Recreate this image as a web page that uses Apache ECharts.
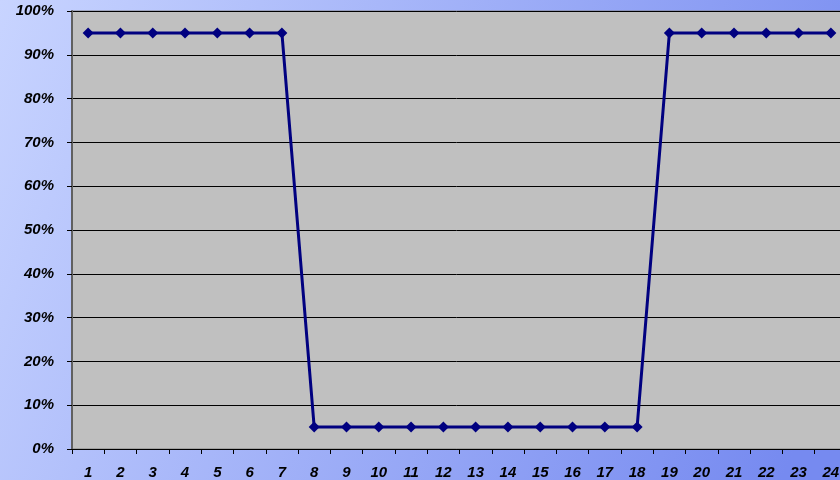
<!DOCTYPE html>
<html>
<head>
<meta charset="utf-8">
<script src="https://cdn.jsdelivr.net/npm/echarts@6/dist/echarts.min.js"></script>
<style>
  html, body { margin: 0; padding: 0; }
  #chart { width: 840px; height: 480px; }
</style>
</head>
<body>
<div id="chart"></div>
<script>
// Hourly share, hours 1..24
const hours = ['1','2','3','4','5','6','7','8','9','10','11','12','13','14','15','16','17','18','19','20','21','22','23','24'];
const share = [0.95,0.95,0.95,0.95,0.95,0.95,0.95,0.05,0.05,0.05,0.05,0.05,0.05,0.05,0.05,0.05,0.05,0.05,0.95,0.95,0.95,0.95,0.95,0.95];
const yTicks = [0,0.1,0.2,0.3,0.4,0.5,0.6,0.7,0.8,0.9,1];

const chart = echarts.init(document.getElementById('chart'), null, { renderer: 'canvas' });

const labelFont = {
  fontFamily: 'Liberation Sans, Arial, sans-serif',
  fontWeight: 'bold',
  fontStyle: 'italic',
  fontSize: 15,
  color: '#000'
};

chart.setOption({
  animation: false,
  backgroundColor: new echarts.graphic.LinearGradient(0, 0, 1, 0.7, [
    { offset: 0, color: '#c8d4ff' },
    { offset: 1, color: '#768af0' }
  ]),
  grid: {
    left: 72,
    top: 11,
    width: 775,
    height: 438,
    containLabel: false,
    outerBoundsMode: 'none',
    show: true,
    backgroundColor: '#c0c0c0',
    borderColor: '#808080',
    borderWidth: 1
  },
  xAxis: {
    type: 'category',
    data: hours,
    boundaryGap: true,
    axisLine: { lineStyle: { color: '#000', width: 1 } },
    axisTick: { show: true, inside: false, length: 5, lineStyle: { color: '#000' } },
    axisLabel: Object.assign({ margin: 16, interval: 0 }, labelFont),
    splitLine: { show: false }
  },
  yAxis: {
    type: 'value',
    min: 0,
    max: 1,
    interval: 0.1,
    axisLine: { show: true, lineStyle: { color: '#606060', width: 2 } },
    axisTick: { show: true, length: 5, lineStyle: { color: '#000' } },
    axisLabel: Object.assign({
      margin: 18,
      formatter: v => {
        const hit = yTicks.find(t => Math.abs(t - v) < 1e-9);
        return hit === undefined ? '' : Math.round(hit * 100) + '%';
      }
    }, labelFont),
    splitLine: { show: true, lineStyle: { color: '#000', width: 1 } }
  },
  series: [{
    type: 'line',
    data: share,
    symbol: 'diamond',
    symbolSize: 11,
    lineStyle: { color: '#000080', width: 3 },
    itemStyle: { color: '#000080' },
    z: 5
  }]
});
</script>
</body>
</html>
